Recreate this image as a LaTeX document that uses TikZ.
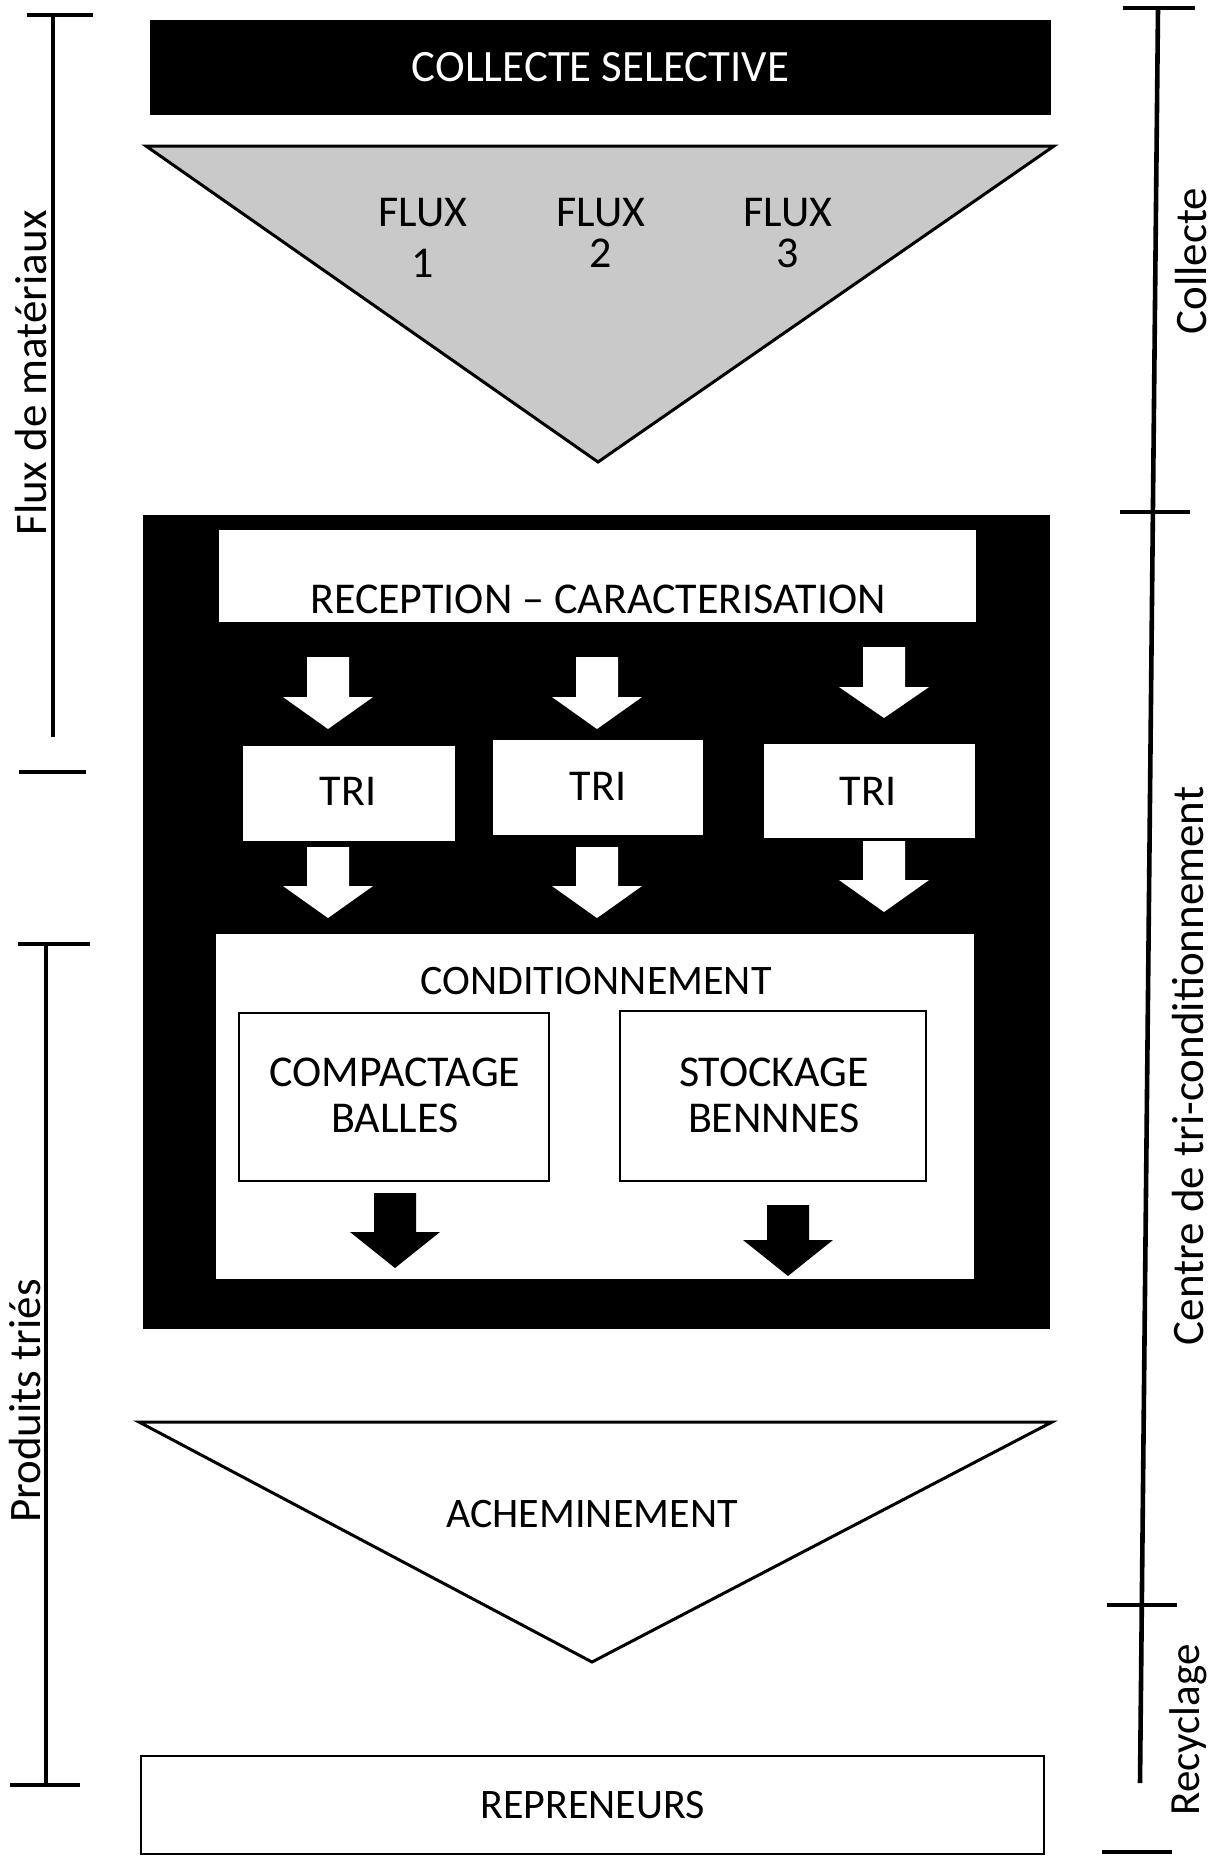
\documentclass[tikz,border=0pt]{standalone}
\usepackage{fontspec}
\setmainfont{Carlito}
\usetikzlibrary{fit}
% block arrow: name, centre x, top y, head base y, tip y, style
\newcommand{\blockarrow}[6]{%
  \path[#6] (#2-21,#3) -- (#2+21,#3) -- (#2+21,#4) -- (#2+45,#4) -- (#2,#5)
    -- (#2-45,#4) -- (#2-21,#4) -- cycle;
  \coordinate (#1) at (#2,#5);}
\begin{document}
\begin{tikzpicture}[x=0.5pt,y=-0.5pt,
  every node/.style={font=\fontsize{22}{23}\selectfont, inner sep=0pt},
  smallfont/.style={font=\fontsize{21}{22.5}\selectfont},
  bracket/.style={line width=2.3pt},
  darkblock/.style={fill=black, draw=none},
  whiteblock/.style={fill=white, draw=none},
  framed/.style={fill=white, draw=black, line width=1.1pt},
  funnel/.style={draw=black, line width=1.5pt, line join=miter},
  whitearrow/.style={fill=white},
  blackarrow/.style={fill=black},
  lbl/.style={text=black},
  sidelbl/.style={text=black, rotate=90, font=\fontsize{22.5}{24}\selectfont}]
\useasboundingbox (0,0) rectangle (1219,1858);

% ---- left brackets
\draw[bracket] (53,15) -- (53,737);
\draw[bracket] (27,15) -- (93,15);
\draw[bracket] (19,772) -- (86,772);
\node[sidelbl] (fluxmat) at (31,373) {Flux de matériaux};
\draw[bracket] (46,944) -- (46,1785);
\draw[bracket] (18,944) -- (90,944);
\draw[bracket] (10,1785) -- (80,1785);
\node[sidelbl] (produits) at (25,1401) {Produits triés};

% ---- right bracket
\draw[bracket] (1158,8) -- (1140,1783);
\draw[bracket] (1123,8) -- (1195,8);
\draw[bracket] (1120,512) -- (1190,512);
\draw[bracket] (1107,1605) -- (1177,1605);
\draw[bracket] (1102,1852) -- (1172,1852);
\node[sidelbl] (collecte) at (1191,261) {Collecte};
\node[sidelbl] (centre) at (1188,1066) {Centre de tri-conditionnement};
\node[sidelbl, font=\fontsize{21.5}{23}\selectfont] (recyclage) at (1188,1730) {Recyclage};

% ---- collecte selective
\node[darkblock, fit={(150,20) (1051,115)}] (bar) {};
\node[text=white, font=\fontsize{22.4}{24}\selectfont] (barlbl) at (bar.center) {COLLECTE SELECTIVE};

% ---- funnel of flows
\draw[funnel, fill=gray!42] (146,146) -- (1054,146) -- (598,462) -- cycle;
\coordinate (funneltip) at (598,462);
\node[lbl] (flux1) at (423,213) {FLUX};
\node[lbl] (num1) at (423,263) {1};
\node[lbl] (flux2) at (601,213) {FLUX};
\node[lbl] (num2) at (601,253) {2};
\node[lbl] (flux3) at (788,213) {FLUX};
\node[lbl] (num3) at (788,253) {3};

% ---- sorting centre
\node[darkblock, fit={(143,515) (1050,1329)}] (centrebox) {};
\node[whiteblock, fit={(219,530) (976,622)}] (recep) {};
\node[lbl] (receplbl) at (598,599) {RECEPTION -- CARACTERISATION};

\blockarrow{a1}{328}{657}{697}{729}{whitearrow}
\blockarrow{a2}{597}{657}{697}{729}{whitearrow}
\blockarrow{a3}{884}{647}{687}{718}{whitearrow}

\node[whiteblock, fit={(243,746) (455,841)}] (tri1) {};
\node[whiteblock, fit={(493,740) (703,835)}] (tri2) {};
\node[whiteblock, fit={(764,744) (975,838)}] (tri3) {};
\node[lbl] (tri1lbl) at (348,791) {TRI};
\node[lbl] (tri2lbl) at (598,786) {TRI};
\node[lbl] (tri3lbl) at (868,791) {TRI};

\blockarrow{b1}{328}{847}{886}{918}{whitearrow}
\blockarrow{b2}{597}{847}{886}{918}{whitearrow}
\blockarrow{b3}{884}{841}{880}{912}{whitearrow}

\node[whiteblock, fit={(216,934) (974,1279)}] (cond) {};
\node[lbl, smallfont] (condlbl) at (596,981) {CONDITIONNEMENT};
\node[framed, fit={(239,1013) (549,1181)}] (compact) {};
\node[lbl, align=center] (compactlbl) at (395,1095) {COMPACTAGE\\BALLES};
\node[framed, fit={(620,1011) (926,1181)}] (stock) {};
\node[lbl, align=center] (stocklbl) at (774,1095) {STOCKAGE\\BENNNES};

\blockarrow{c1}{395}{1193}{1232}{1268}{blackarrow}
\blockarrow{c2}{788}{1205}{1240}{1276}{blackarrow}

% ---- acheminement
\draw[funnel, fill=white] (139,1422) -- (1052,1422) -- (592,1662) -- cycle;
\coordinate (achtip) at (592,1662);
\node[lbl, smallfont] (achlbl) at (592,1514) {ACHEMINEMENT};

% ---- repreneurs
\node[framed, fit={(141,1756) (1044,1854)}] (repren) {};
\node[lbl, smallfont] (reprenlbl) at (repren.center) {REPRENEURS};
\end{tikzpicture}
\end{document}
